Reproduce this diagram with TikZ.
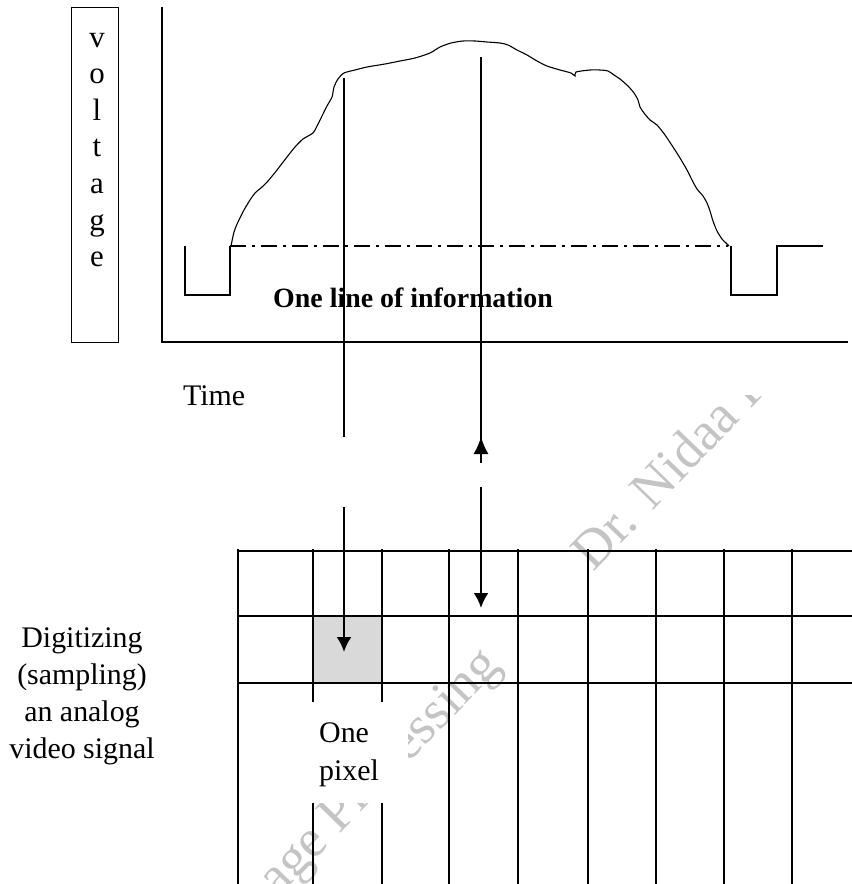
\documentclass[tikz,border=0pt]{standalone}
\usepackage{fontspec}
\setmainfont{Liberation Serif}
\usetikzlibrary{arrows.meta}
\definecolor{wmgray}{HTML}{C4C4C4}
\definecolor{pixfill}{HTML}{D9D9D9}
\begin{document}
\begin{tikzpicture}[x=1bp,y=-1bp,
  ln/.style={line width=1.2bp, black},
  bigarrow/.style={line width=2.4bp, -{Latex[length=15bp,width=15bp]}},
  smallarrow/.style={line width=1.4bp, -{Latex[length=17bp,width=15bp]}},
  txt/.style={inner sep=0, font=\fontsize{30}{37}\selectfont},
  boldtxt/.style={inner sep=0, font=\fontsize{28}{34}\selectfont\bfseries},
  vlet/.style={inner sep=0, anchor=base, font=\fontsize{31}{36}\selectfont},
  wmtext/.style={inner sep=0, anchor=base west, rotate=46, text=wmgray, font=\fontsize{54}{60}\selectfont},
  dashdot/.style={line width=1.2bp, dash pattern=on 16bp off 6bp on 3bp off 6bp}
]
\useasboundingbox (0,0) rectangle (852,884);

% watermark
\begin{scope}
  \clip (0,395) rectangle (852,884);
  \node[wmtext] (wm1) at (237,941) {Image Processing};
  \node[wmtext] (wm2) at (593,573) {Dr. Nidaa Flaih};
\end{scope}

% voltage box
\node[draw, line width=1.2bp, minimum width=47bp, minimum height=335bp, inner sep=0, anchor=north west] (vbox) at (71,7) {};
\foreach \l [count=\i from 0] in {v,o,l,t,a,g,e}
  \node[vlet] (vl\i) at (97,{47+36.6*\i}) {\l};

% axes
\coordinate (axtop) at (162,7);
\coordinate (axorig) at (162,342);
\coordinate (axright) at (848,342);
\draw[ln] (axtop) -- (axorig) -- (axright);

% signal pulses
\coordinate (p1) at (185,246);
\coordinate (p2) at (185,295);
\coordinate (p3) at (230,295);
\coordinate (p4) at (230,246);
\draw[ln] (p1) -- (p2) -- (p3) -- (p4);
\coordinate (q1) at (731,246);
\coordinate (q2) at (731,295);
\coordinate (q3) at (777,295);
\coordinate (q4) at (777,246);
\coordinate (q5) at (823,246);
\draw[ln] (q1) -- (q2) -- (q3) -- (q4) -- (q5);
\coordinate (bl1) at (230,246);
\coordinate (bl2) at (728,246);
\draw[dashdot] (bl1) -- (bl2);

% analog curve
\draw[line width=1.1bp] plot[smooth, tension=0.45] coordinates {
 (231,246) (234,232) (238,222) (244,210) (250,200) (255,193) (262,187) (268,181)
 (277,170) (287,157) (295,147) (303,139) (313,133) (317,126) (322,116) (327,106)
 (332,97) (334,87) (338,79) (344,73) (355,70) (367,67) (385,64) (400,61) (415,58)
 (430,53) (440,47) (451,43) (463,41) (475,41) (487,42) (500,43) (508,45) (517,50)
 (527,55) (537,61) (547,66) (560,70) (571,73) (575,76) (576,72) (590,70) (600,70)
 (608,71) (614,75) (620,79) (628,86) (634,93) (638,100) (640,107) (644,113) (650,120)
 (657,125) (665,135) (673,147) (680,158) (687,170) (692,180) (697,189) (703,196)
 (707,203) (710,211) (713,221) (717,231) (722,239) (726,243) (729,246)};

\node[boldtxt, anchor=base west] (oneline) at (273,307) {One line of information};
\node[txt, anchor=base west] (time) at (183,405) {Time};

% sampling lines
\coordinate (s1top) at (344,78);
\coordinate (s1bot) at (344,437);
\draw[ln] (s1top) -- (s1bot);
\coordinate (s2top) at (481,57);
\coordinate (s2mid) at (481,442);
\draw[ln] (s2top) -- (s2mid);
\coordinate (s2as) at (481,463);
\coordinate (s2ae) at (481,437);
\draw[smallarrow] (s2as) -- (s2ae);

% grid
\node[fill=pixfill, inner sep=0, minimum width=69bp, minimum height=67bp, anchor=north west] (pix) at (313,616) {};
\foreach \yy in {551,616,683}
  \draw[ln] (238,\yy) -- (852,\yy);
\foreach \xx in {238,313,382,449,518,588,656,724,792}
  \draw[ln] (\xx,549) -- (\xx,884);
\node[fill=white, inner sep=0, minimum width=108bp, minimum height=101bp, anchor=north west] (pixbox) at (300,702) {};
\node[txt, anchor=base west, align=left, font=\fontsize{30}{38}\selectfont] (pixlabel) at (319,780) {One\\pixel};

% arrows into grid
\coordinate (a1s) at (344,507);
\coordinate (a1e) at (344,652);
\draw[bigarrow] (a1s) -- (a1e);
\coordinate (a2s) at (481,487);
\coordinate (a2e) at (481,608);
\draw[bigarrow] (a2s) -- (a2e);

\node[txt, anchor=base, align=center] (digit) at (82,758) {Digitizing\\(sampling)\\an analog\\video signal};
\end{tikzpicture}
\end{document}
